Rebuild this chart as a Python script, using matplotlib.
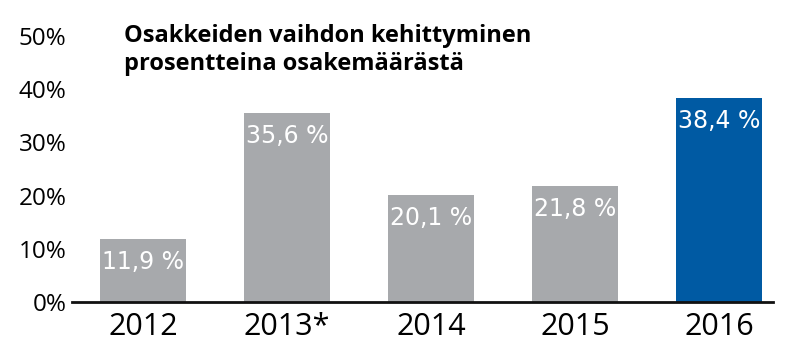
import matplotlib
matplotlib.use("Agg")
import matplotlib.pyplot as plt

years = ["2012", "2013*", "2014", "2015", "2016"]
values = [11.9, 35.6, 20.1, 21.8, 38.4]
value_labels = ["11,9 %", "35,6 %", "20,1 %", "21,8 %", "38,4 %"]
colors = ["#a7a9ac", "#a7a9ac", "#a7a9ac", "#a7a9ac", "#005aa3"]
yticks = [0, 10, 20, 30, 40, 50]
ytick_labels = ["0%", "10%", "20%", "30%", "40%", "50%"]
title_lines = ["Osakkeiden vaihdon kehittyminen", "prosentteina osakemäärästä"]

W, H = 791, 357
fig = plt.figure(figsize=(W / 100, H / 100), dpi=100)
ax = fig.add_axes([72 / W, 55 / H, (773 - 72) / W, 266 / H])

x = list(range(len(years)))
ax.bar(x, values, width=0.6, color=colors, zorder=2)
ax.set_xlim(-0.493, 4.375)
ax.set_ylim(0, 50)

for xi, v, lab in zip(x, values, value_labels):
    ax.annotate(lab, (xi, v), xytext=(0, -23), textcoords="offset pixels",
                ha="center", va="center", color="white", fontsize=17,
                family="DejaVu Sans")

for s in ["top", "right", "left"]:
    ax.spines[s].set_visible(False)
ax.spines["bottom"].set_linewidth(2)
ax.spines["bottom"].set_color("#111111")

ax.set_yticks(yticks)
ax.set_yticklabels(ytick_labels, family="Open Sans", fontsize=17.5)
ax.set_xticks(x)
ax.set_xticklabels(years, family="Open Sans", fontsize=22)
ax.tick_params(axis="y", length=0, pad=4)
ax.tick_params(axis="x", length=0, pad=7)

for i, line in enumerate(title_lines):
    fig.text(124 / W, 1 - (42 + 28 * i) / H, line, ha="left", va="baseline",
             fontsize=17, fontweight="bold", family="Open Sans")

fig.savefig("out.png", dpi=100)
